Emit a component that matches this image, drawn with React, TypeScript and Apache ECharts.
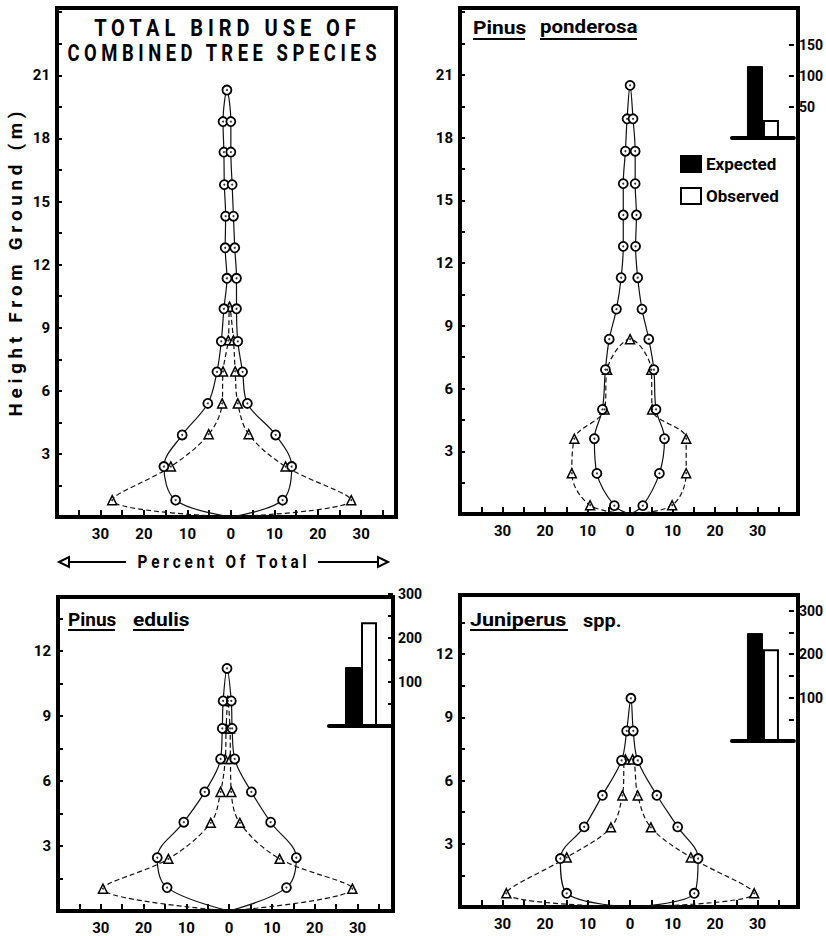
import React, { useEffect, useRef } from "react";
import * as echarts from "echarts";

// ---------- DATA ----------
// Heights (m) of each sampled layer, bottom to top; left/right = percent of total on each side
const totalHeights = [0.8, 2.4, 3.9, 5.4, 6.9, 8.35, 9.9, 11.35, 12.8, 14.3, 15.8, 17.35, 18.8];
const totalCircLeft = [12.7, 15.4, 11.2, 5.3, 3.2, 2.2, 1.6, 0.9, 1.3, 1.2, 1.5, 1.6, 1.8];
const totalCircRight = [11.9, 14.0, 10.3, 3.8, 2.7, 1.6, 1.3, 1.3, 0.9, 0.6, 0.3, 0.0, 0.0];
const totalCircApex = [-0.9, 20.3];
const totalTriHeights = [0.8, 2.4, 3.94, 5.4, 6.92, 8.4];
const totalTriLeft = [27.3, 13.8, 5.1, 2.0, 1.8, 0.6];
const totalTriRight = [27.7, 12.6, 4.1, 1.6, 1.0, 0.6];
const totalTriApex = [-0.3, 10.0];

const pondHeights = [0.4, 1.94, 3.6, 5.0, 6.9, 8.36, 9.8, 11.3, 12.8, 14.3, 15.8, 17.35, 18.9];
const pondCircLeft = [3.7, 7.8, 8.4, 6.5, 5.8, 4.9, 3.2, 2.1, 1.6, 1.6, 1.6, 1.1, 0.7];
const pondCircRight = [3.0, 6.9, 8.1, 6.1, 5.6, 4.4, 2.8, 1.8, 1.3, 1.5, 1.2, 1.2, 0.7];
const pondCircApex = [0, 20.5];
const pondTriHeights = [0.42, 1.95, 3.6, 5.0, 6.9];
const pondTriLeft = [9.4, 13.7, 13.1, 6.0, 5.4];
const pondTriRight = [9.9, 13.2, 13.2, 5.2, 5.0];
const pondTriApex = [0, 8.36];

const edulisHeights = [1.08, 2.46, 4.1, 5.5, 7.02, 8.43, 9.7];
const edulisCircLeft = [14.5, 16.8, 10.6, 5.7, 2.0, 1.6, 1.4];
const edulisCircRight = [13.4, 15.7, 9.7, 5.2, 1.3, 0.7, 0.5];
const edulisCircApex = [-0.5, 11.2];
const edulisTriHeights = [1.03, 2.41, 4.07, 5.5, 7.02, 8.43];
const edulisTriLeft = [29.5, 14.2, 4.3, 2.0, 0.9, 0.7];
const edulisTriRight = [28.8, 11.8, 2.5, 0.5, 0.3, 0.2];
const edulisTriApex = [-0.3, 9.7];

const junHeights = [0.65, 2.3, 3.8, 5.3, 6.95, 8.35];
const junCircLeft = [14.9, 16.4, 10.8, 6.5, 2.0, 0.8];
const junCircRight = [15.1, 16.0, 11.2, 6.3, 1.8, 0.75];
const junCircApex = [0.2, 9.9];
const junTriHeights = [0.65, 2.35, 3.78, 5.29, 7.0];
const junTriLeft = [29.1, 14.9, 4.5, 1.8, 1.1];
const junTriRight = [29.2, 14.3, 4.9, 1.8, 0.6];

// Inset bar charts: expected vs observed
const barNames = ["Expected", "Observed"];
const pondBars = [116, 29];
const edulisBars = [134, 236];
const junBars = [248, 211];

// ---------- HELPERS ----------
const FONT = "Roboto, 'Liberation Sans', sans-serif";

function buildProfile(h: number[], left: number[], right: number[], apex: number[] | null) {
  const pts: any[] = [{ value: [0, 0], symbol: "none" }];
  for (let i = 0; i < h.length; i++) pts.push([-left[i], h[i]]);
  if (apex) pts.push(apex);
  for (let i = h.length - 1; i >= 0; i--) pts.push([right[i], h[i]]);
  pts.push({ value: [0, 0], symbol: "none" });
  return pts;
}
function dotsOf(pts: any[]) {
  return pts.filter((p) => Array.isArray(p));
}

const spaced = (s: string) => s.split(" ").map((w) => w.split("").join(" ")).join("   ");

export default function App() {
  const ref = useRef<HTMLDivElement>(null);
  useEffect(() => {
    if (!ref.current) return;
    const chart = echarts.init(ref.current, null, { renderer: "svg" });

    const profiles = [
      {
        circ: buildProfile(totalHeights, totalCircLeft, totalCircRight, totalCircApex),
        tri: buildProfile(totalTriHeights, totalTriLeft, totalTriRight, totalTriApex),
      },
      {
        circ: buildProfile(pondHeights, pondCircLeft, pondCircRight, pondCircApex),
        tri: buildProfile(pondTriHeights, pondTriLeft, pondTriRight, pondTriApex),
      },
      {
        circ: buildProfile(edulisHeights, edulisCircLeft, edulisCircRight, edulisCircApex),
        tri: buildProfile(edulisTriHeights, edulisTriLeft, edulisTriRight, edulisTriApex),
      },
      {
        circ: buildProfile(junHeights, junCircLeft, junCircRight, junCircApex),
        tri: buildProfile(junTriHeights, junTriLeft, junTriRight, null),
      },
    ];

    const profGrids = [
      { left: 57, top: 8, width: 339, height: 509, ymax: 24.2, xmax: 38 },
      { left: 460, top: 8, width: 338, height: 506, ymax: 24.2, xmax: 39.5 },
      { left: 58, top: 597, width: 335, height: 314, ymax: 14.5, xmax: 38.3 },
      { left: 460, top: 595, width: 338, height: 312, ymax: 14.8, xmax: 39.5 },
    ];
    const insetGrids = [
      { left: 732, top: 45, width: 66, height: 93, ymax: 150, data: pondBars, labels: [50, 100, 150] },
      { left: 329, top: 594, width: 64, height: 132, ymax: 300, data: edulisBars, labels: [100, 200, 300] },
      { left: 732, top: 610.5, width: 66, height: 130.5, ymax: 300, data: junBars, labels: [100, 200, 300] },
    ];

    const grid: any[] = [];
    const xAxis: any[] = [];
    const yAxis: any[] = [];
    const series: any[] = [];

    profGrids.forEach((g, i) => {
      grid.push({
        left: g.left, top: g.top, width: g.width, height: g.height,
        show: true, borderColor: "#000", borderWidth: 4, backgroundColor: "transparent",
      });
      xAxis.push({
        type: "value", gridIndex: i, min: -40, max: g.xmax, interval: 5,
        axisLine: { show: false, onZero: false },
        axisTick: { show: true, inside: true, length: 7, lineStyle: { color: "#000", width: 2 } },
        splitLine: { show: false },
        axisLabel: {
          margin: 9, color: "#000", fontFamily: FONT, fontWeight: "bold", fontSize: 15,
          formatter: (v: number) => (v % 10 === 0 && Math.abs(v) <= 30 ? String(Math.abs(v)) : ""),
        },
      });
      yAxis.push({
        type: "value", gridIndex: i, min: 0, max: g.ymax, interval: 1.5,
        axisLine: { show: false, onZero: false },
        axisTick: { show: true, inside: true, length: 5, lineStyle: { color: "#000", width: 2 } },
        splitLine: { show: false },
        axisLabel: {
          margin: 7, color: "#000", fontFamily: FONT, fontWeight: "bold", fontSize: 15,
          formatter: (v: number) => (v > 0 && v < 22 && v % 3 === 0 ? String(v) : ""),
        },
      });
      const p = profiles[i];
      series.push({
        type: "line", xAxisIndex: i, yAxisIndex: i, data: p.tri, smooth: 0.35,
        symbol: "triangle", symbolSize: 9,
        lineStyle: { color: "#111", width: 1.2, type: [5, 3] },
        itemStyle: { color: "#fff", borderColor: "#000", borderWidth: 1.5 },
        z: 3,
      });
      series.push({
        type: "line", xAxisIndex: i, yAxisIndex: i, data: p.circ, smooth: 0.35,
        symbol: "circle", symbolSize: 9,
        lineStyle: { color: "#111", width: 1.2 },
        itemStyle: { color: "#fff", borderColor: "#000", borderWidth: 1.8 },
        z: 4,
      });
      series.push({
        type: "scatter", xAxisIndex: i, yAxisIndex: i,
        data: dotsOf(p.tri).concat(dotsOf(p.circ)),
        symbol: "circle", symbolSize: 2, itemStyle: { color: "#000" }, z: 5, silent: true,
      });
    });

    insetGrids.forEach((g, k) => {
      const gi = 4 + k;
      grid.push({ left: g.left, top: g.top, width: g.width, height: g.height });
      xAxis.push({
        type: "category", gridIndex: gi, data: [""],
        axisLine: { show: true, onZero: false, lineStyle: { color: "#000", width: 4 } },
        axisTick: { show: false }, axisLabel: { show: false },
      });
      yAxis.push({
        type: "value", gridIndex: gi, position: "right", min: 0, max: g.ymax, interval: 50,
        axisLine: { show: false, onZero: false },
        axisTick: { show: true, inside: true, length: 5, lineStyle: { color: "#000", width: 2 } },
        splitLine: { show: false },
        axisLabel: {
          margin: 5, color: "#000", fontFamily: FONT, fontWeight: "bold", fontSize: 14,
          formatter: (v: number) => (g.labels.indexOf(v) >= 0 ? String(v) : ""),
        },
      });
      series.push({
        name: barNames[0], type: "bar", xAxisIndex: gi, yAxisIndex: gi,
        data: [g.data[0]], barWidth: 16, barGap: "0%",
        itemStyle: { color: "#000", borderColor: "#000", borderWidth: 1 },
      });
      series.push({
        name: barNames[1], type: "bar", xAxisIndex: gi, yAxisIndex: gi,
        data: [g.data[1]], barWidth: 16, barGap: "0%",
        itemStyle: { color: "#fff", borderColor: "#000", borderWidth: 2 },
      });
    });

    const txt = (x: number, y: number, text: string, size: number, align = "left", extra: any = {}) => ({
      type: "text", x, y, ...extra,
      style: {
        text, fontFamily: FONT, fontWeight: "bold", fontSize: size, fill: "#000",
        textAlign: align, textVerticalAlign: "middle",
      },
    });
    const uline = (x1: number, x2: number, y: number) => ({
      type: "line", shape: { x1, y1: y, x2, y2: y }, style: { stroke: "#000", lineWidth: 2 },
    });

    const graphic: any[] = [
      txt(225, 28, spaced("TOTAL BIRD USE OF"), 23, "center", { scaleX: 0.87 }),
      txt(222, 53, spaced("COMBINED TREE SPECIES"), 23, "center", { scaleX: 0.8 }),
      txt(16, 264, spaced("Height From Ground (m)"), 18, "center", { rotation: Math.PI / 2, scaleX: 1.05 }),
      txt(222, 562, spaced("Percent Of Total"), 18, "center", { scaleX: 0.85 }),
      { type: "line", shape: { x1: 68, y1: 562, x2: 126, y2: 562 }, style: { stroke: "#000", lineWidth: 2 } },
      { type: "line", shape: { x1: 318, y1: 562, x2: 378, y2: 562 }, style: { stroke: "#000", lineWidth: 2 } },
      { type: "polygon", shape: { points: [[59, 562], [69, 557], [69, 567]] }, style: { fill: "#fff", stroke: "#000", lineWidth: 2 } },
      { type: "polygon", shape: { points: [[388, 562], [378, 557], [378, 567]] }, style: { fill: "#fff", stroke: "#000", lineWidth: 2 } },
      txt(473, 27, "Pinus", 19, "left", { scaleX: 1.1 }),
      txt(540, 27, "ponderosa", 19, "left", { scaleX: 1.08 }),
      uline(473, 525, 39),
      uline(540, 637, 39),
      txt(68, 619, "Pinus", 19, "left", { scaleX: 1.0 }),
      txt(133, 619, "edulis", 19, "left", { scaleX: 1.1 }),
      uline(68, 115, 630),
      uline(133, 184, 630),
      txt(470, 619, "Juniperus", 19, "left", { scaleX: 1.13 }),
      txt(583, 621, "spp.", 19, "left", { scaleX: 1.05 }),
      uline(470, 568, 630),
    ];

    chart.setOption({
      animation: false,
      backgroundColor: "#fff",
      grid, xAxis, yAxis, series, graphic,
      legend: {
        data: barNames, orient: "vertical", left: 675, top: 150,
        itemWidth: 20, itemHeight: 16, itemGap: 14, icon: "rect",
        textStyle: { fontFamily: FONT, fontWeight: "bold", fontSize: 17, color: "#000" },
        selectedMode: false,
      },
    });
    return () => chart.dispose();
  }, []);

  return <div ref={ref} style={{ position: "absolute", left: 0, top: 0, width: 826, height: 936 }} />;
}
